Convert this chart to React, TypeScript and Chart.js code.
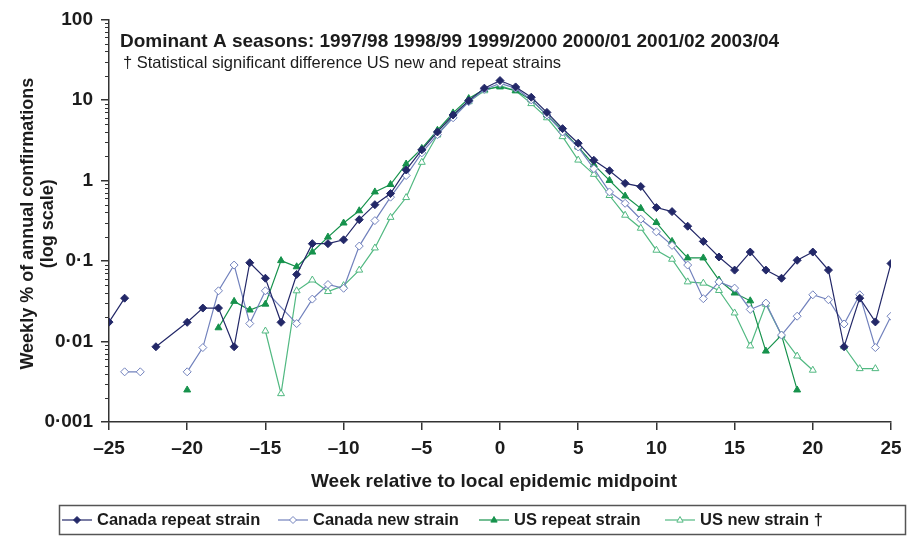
import React, { useEffect, useRef } from 'react';
import { Chart, registerables } from 'chart.js';
Chart.register(...registerables);

const weeks = [-25, -24, -23, -22, -21, -20, -19, -18, -17, -16, -15, -14, -13, -12, -11, -10, -9, -8, -7, -6, -5, -4, -3, -2, -1, 0, 1, 2, 3, 4, 5, 6, 7, 8, 9, 10, 11, 12, 13, 14, 15, 16, 17, 18, 19, 20, 21, 22, 23, 24, 25];

const canadaRepeat = [0.0174, 0.0345, null, 0.0086, null, 0.0173, 0.026, 0.026, 0.0086, 0.095, 0.061, 0.0173, 0.068, 0.164, 0.164, 0.183, 0.326, 0.5, 0.687, 1.35, 2.4, 4.0, 6.5, 9.8, 14, 17.4, 14.5, 10.8, 7.0, 4.4, 2.9, 1.78, 1.32, 0.92, 0.84, 0.46, 0.41, 0.27, 0.175, 0.112, 0.077, 0.129, 0.077, 0.061, 0.102, 0.129, 0.077, 0.0086, 0.0345, 0.0175, 0.093];
const canadaNew = [null, 0.0042, 0.0042, null, null, 0.0042, 0.0084, 0.0426, 0.089, 0.0167, 0.0426, null, 0.0167, 0.0336, 0.051, 0.0458, 0.153, 0.317, 0.62, 1.15, 2.2, 3.7, 6.0, 9.5, 13.5, 16, 14, 10, 6.5, 4.0, 2.6, 1.4, 0.72, 0.52, 0.33, 0.23, 0.156, 0.089, 0.034, 0.055, 0.046, 0.025, 0.03, 0.012, 0.0206, 0.038, 0.033, 0.0165, 0.038, 0.0084, 0.0206];
const usRepeat = [null, null, null, null, null, 0.0025, null, 0.0148, 0.0315, 0.0246, 0.0291, 0.101, 0.0847, 0.129, 0.198, 0.296, 0.42, 0.72, 0.89, 1.6, 2.5, 4.2, 6.9, 10.4, 13.5, 14.5, 13, 10, 6.5, 4.2, 2.6, 1.57, 1.0, 0.64, 0.45, 0.3, 0.175, 0.109, 0.109, 0.058, 0.04, 0.032, 0.0076, 0.012, 0.0025, null, null, null, null, null, null];
const usNew = [null, null, null, null, null, null, null, null, null, null, 0.0135, 0.00225, 0.0426, 0.058, 0.0417, 0.0494, 0.077, 0.145, 0.348, 0.613, 1.68, 3.67, 6.3, 9.5, 13, 15, 13, 9, 6.0, 3.5, 1.79, 1.19, 0.65, 0.37, 0.255, 0.136, 0.105, 0.055, 0.053, 0.043, 0.0226, 0.0088, 0.029, 0.012, 0.0066, 0.0044, null, 0.0086, 0.0046, 0.0046, null];

// weeks without a marker that the original line runs straight across
const canadaRepeatBridged = [-21];
const canadaNewBridged = [-14];

const seriesLabels = ['Canada repeat strain', 'Canada new strain', 'US repeat strain', 'US new strain \u2020'];
const yTickValues = [0.001, 0.01, 0.1, 1, 10, 100];
const yTickLabels = ['0\u00b7001', '0\u00b701', '0\u00b71', '1', '10', '100'];
const titleLine = 'Dominant A seasons: 1997/98 1998/99 1999/2000 2000/01 2001/02 2003/04';
const subtitleLine = '\u2020 Statistical significant difference US new and repeat strains';
const yTitle = ['Weekly % of annual confirmations', '(log scale)'];
const xTitle = 'Week relative to local epidemic midpoint';

const NAVY = '#232868';
const LIGHTBLUE = '#7282bd';
const GREEN = '#16924c';
const LIGHTGREEN = '#52b982';
const AXIS = '#333333';
const TEXT = '#1c1c1c';
const FONT = '"Liberation Sans", Arial, sans-serif';

function build(vals: (number | null)[], bridged: number[]) {
  return weeks
    .map((w, i) => ({ x: w, y: vals[i] }))
    .filter((p) => !bridged.includes(p.x));
}

function drawMarker(ctx: CanvasRenderingContext2D, style: string, x: number, y: number, r: number, fill: string, stroke: string) {
  ctx.beginPath();
  if (style === 'rectRot') {
    ctx.moveTo(x, y - r);
    ctx.lineTo(x + r, y);
    ctx.lineTo(x, y + r);
    ctx.lineTo(x - r, y);
  } else {
    ctx.moveTo(x, y - r);
    ctx.lineTo(x + r * 0.9, y + r * 0.6);
    ctx.lineTo(x - r * 0.9, y + r * 0.6);
  }
  ctx.closePath();
  ctx.fillStyle = fill;
  ctx.fill();
  ctx.strokeStyle = stroke;
  ctx.lineWidth = 1;
  ctx.stroke();
}

const overlay = {
  id: 'overlay',
  afterDraw(chart: any) {
    const ctx: CanvasRenderingContext2D = chart.ctx;
    const ys = chart.scales.y;
    const area = chart.chartArea;
    ctx.save();
    // minor ticks on log axis
    ctx.strokeStyle = AXIS;
    ctx.lineWidth = 1;
    for (let k = -3; k < 2; k++) {
      for (let m = 2; m < 10; m++) {
        const py = Math.round(ys.getPixelForValue(m * Math.pow(10, k))) + 0.5;
        ctx.beginPath();
        ctx.moveTo(ys.right - 4, py);
        ctx.lineTo(ys.right, py);
        ctx.stroke();
      }
    }
    // in-plot title lines
    ctx.fillStyle = TEXT;
    ctx.textAlign = 'left';
    ctx.textBaseline = 'middle';
    ctx.font = 'bold 19px ' + FONT;
    ctx.fillText(titleLine, area.left + 11, 42);
    ctx.font = '16.5px ' + FONT;
    ctx.fillText(subtitleLine, area.left + 14, 63);
    // y title
    ctx.save();
    ctx.translate(28, (area.top + area.bottom) / 2 + 3);
    ctx.rotate(-Math.PI / 2);
    ctx.textAlign = 'center';
    ctx.font = 'bold 18px ' + FONT;
    ctx.fillText(yTitle[0], 0, 0);
    ctx.fillText(yTitle[1], 0, 20);
    ctx.restore();
    // x title
    ctx.textAlign = 'center';
    ctx.font = 'bold 19px ' + FONT;
    ctx.fillText(xTitle, (area.left + area.right) / 2 - 6, 482);
    // legend box
    ctx.strokeStyle = '#555555';
    ctx.lineWidth = 1.5;
    ctx.strokeRect(59.5, 505.5, 846, 29);
    const lx = [62, 278, 479, 665];
    const ly = 520;
    chart.data.datasets.forEach((ds: any, i: number) => {
      const x0 = lx[i];
      ctx.strokeStyle = ds.borderColor;
      ctx.lineWidth = 1.2;
      ctx.beginPath();
      ctx.moveTo(x0, ly);
      ctx.lineTo(x0 + 30, ly);
      ctx.stroke();
      drawMarker(ctx, ds.pointStyle, x0 + 15, ly, 3.5, ds.pointBackgroundColor, ds.borderColor);
      ctx.fillStyle = TEXT;
      ctx.textAlign = 'left';
      ctx.font = 'bold 16.5px ' + FONT;
      ctx.fillText(seriesLabels[i], x0 + 35, ly);
    });
    ctx.restore();
  },
};

export default function App() {
  const ref = useRef<HTMLCanvasElement>(null);
  useEffect(() => {
    if (!ref.current) return;
    const mk = (label: string, data: any, color: string, fill: string, style: string) => ({
      label,
      data,
      borderColor: color,
      backgroundColor: fill,
      pointBackgroundColor: fill,
      pointBorderColor: color,
      pointStyle: style,
      pointRadius: 4,
      pointBorderWidth: 1,
      borderWidth: 1.2,
      tension: 0,
      spanGaps: false,
    });
    const chart = new Chart(ref.current, {
      type: 'line',
      data: {
        datasets: [
          mk(seriesLabels[0], build(canadaRepeat, canadaRepeatBridged), NAVY, NAVY, 'rectRot'),
          mk(seriesLabels[1], build(canadaNew, canadaNewBridged), LIGHTBLUE, '#ffffff', 'rectRot'),
          mk(seriesLabels[2], build(usRepeat, []), GREEN, GREEN, 'triangle'),
          mk(seriesLabels[3], build(usNew, []), LIGHTGREEN, '#ffffff', 'triangle'),
        ],
      },
      options: {
        responsive: false,
        animation: false,
        events: [],
        layout: { padding: { left: 0, top: 15, right: 26, bottom: 44 } },
        plugins: { legend: { display: false }, tooltip: { enabled: false } },
        scales: {
          x: {
            type: 'linear',
            min: -25,
            max: 25,
            afterFit: (s: any) => { s.height = 72; },
            border: { color: AXIS, width: 1.5 },
            grid: { drawOnChartArea: false, drawTicks: true, tickLength: 8, color: AXIS, lineWidth: 1.5 },
            ticks: {
              stepSize: 5,
              padding: 7,
              color: TEXT,
              font: { family: FONT, size: 19, weight: 'bold' },
              callback: (v: any) => (v < 0 ? '\u2013' + Math.abs(v) : String(v)),
            },
          },
          y: {
            type: 'logarithmic',
            min: 0.001,
            max: 100,
            afterFit: (s: any) => { s.width = 109; },
            afterBuildTicks: (s: any) => { s.ticks = yTickValues.map((v) => ({ value: v, major: true })); },
            border: { color: AXIS, width: 1.5 },
            grid: { drawOnChartArea: false, drawTicks: true, tickLength: 8, color: AXIS, lineWidth: 1.5 },
            ticks: {
              padding: 8,
              color: TEXT,
              autoSkip: false,
              font: { family: FONT, size: 19, weight: 'bold' },
              callback: (v: any) => {
                const i = yTickValues.findIndex((t) => Math.abs(t - v) / t < 1e-6);
                return i >= 0 ? yTickLabels[i] : '';
              },
            },
          },
        },
      },
      plugins: [overlay],
    } as any);
    return () => chart.destroy();
  }, []);
  return (
    <div style={{ position: 'fixed', left: 0, top: 0, width: 917, height: 538, background: '#fff' }}>
      <canvas ref={ref} width={917} height={538} style={{ width: 917, height: 538, display: 'block' }} />
    </div>
  );
}
